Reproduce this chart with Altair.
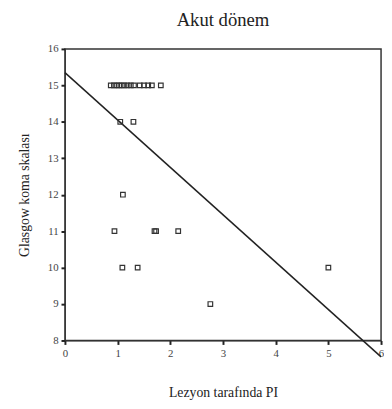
import altair as alt
import pandas as pd

pi_values = [0.87, 0.93, 0.98, 1.03, 1.08, 1.13, 1.19, 1.25, 1.31, 1.42, 1.50, 1.58, 1.65, 1.82,
             1.05, 1.30,
             1.10,
             0.94, 1.70, 1.73, 2.15,
             1.09, 1.38, 5.00,
             2.76]
gks_values = [15, 15, 15, 15, 15, 15, 15, 15, 15, 15, 15, 15, 15, 15,
              14, 14,
              12,
              11, 11, 11, 11,
              10, 10, 10,
              9]

line_x = [0, 6]
line_y = [15.35, 7.55]

pts = pd.DataFrame({"pi": pi_values, "gks": gks_values})
ln = pd.DataFrame({"pi": line_x, "gks": line_y})

FONT = "Liberation Serif"

xscale = alt.Scale(domain=[0, 6], nice=False, zero=False)
yscale = alt.Scale(domain=[8, 16], nice=False, zero=False)

xaxis = alt.Axis(title="Lezyon tarafında PI", values=[0, 1, 2, 3, 4, 5, 6], format="d",
                 grid=False, domainColor="#333", tickColor="#222", tickSize=4, tickWidth=2,
                 labelFont=FONT, labelFontSize=11, labelColor="#444", labelPadding=3,
                 labelOverlap=False,
                 titleFont=FONT, titleFontSize=14, titleFontWeight="normal", titleColor="#222",
                 titlePadding=28, labelFlush=False)
yaxis = alt.Axis(title="Glasgow koma skalası", values=[8, 9, 10, 11, 12, 13, 14, 15, 16], format="d",
                 grid=False, domainColor="#333", tickColor="#222", tickSize=4, tickWidth=2,
                 labelFont=FONT, labelFontSize=11, labelColor="#444", labelPadding=3,
                 labelOverlap=False,
                 titleFont=FONT, titleFontSize=14, titleFontWeight="normal", titleColor="#222",
                 titlePadding=16, labelFlush=False)

points = alt.Chart(pts).mark_point(shape="square", filled=False, size=22, strokeWidth=1.2,
                                   color="#333", opacity=1).encode(
    x=alt.X("pi:Q", scale=xscale, axis=xaxis),
    y=alt.Y("gks:Q", scale=yscale, axis=yaxis),
)

line = alt.Chart(ln).mark_line(color="#222", strokeWidth=1.5, clip=False).encode(
    x=alt.X("pi:Q", scale=xscale, axis=xaxis),
    y=alt.Y("gks:Q", scale=yscale, axis=yaxis),
)

chart = alt.layer(line, points).properties(
    width=322, height=297,
    title=alt.TitleParams("Akut dönem", font=FONT, fontSize=19, fontWeight="normal",
                          color="#222", offset=13),
    padding={"left": 10, "top": 0, "right": 0, "bottom": 0},
).configure_view(stroke="#333", strokeWidth=1.5).configure_axis(labelOverlap=False)

chart.save("out.html", embed_options={"renderer": "svg", "actions": False})
